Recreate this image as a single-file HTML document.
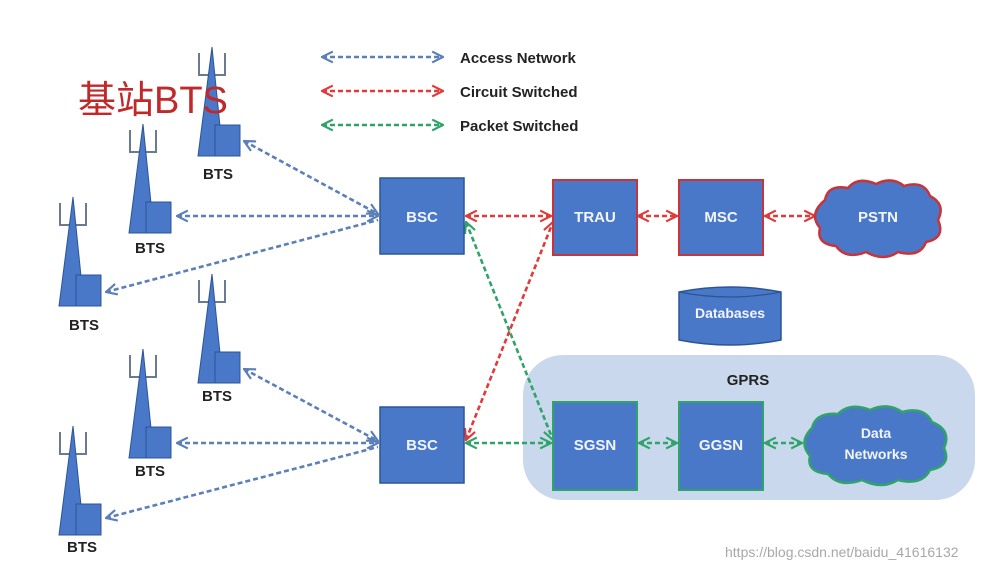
<!DOCTYPE html>
<html><head><meta charset="utf-8"><style>
html,body{margin:0;padding:0;background:#fff}
svg{display:block}
text{font-family:"Liberation Sans",Arial,sans-serif;font-weight:bold}
</style></head><body>
<svg width="1000" height="572" viewBox="0 0 1000 572" xmlns="http://www.w3.org/2000/svg">
<defs>
<marker id="mb" viewBox="0 0 12 12" refX="11" refY="6" markerWidth="13" markerHeight="13" markerUnits="userSpaceOnUse" orient="auto-start-reverse"><path d="M1,1 L11,6 L1,11" fill="none" stroke="#5b7fb8" stroke-width="2"/></marker>
<marker id="mr" viewBox="0 0 12 12" refX="11" refY="6" markerWidth="13" markerHeight="13" markerUnits="userSpaceOnUse" orient="auto-start-reverse"><path d="M1,1 L11,6 L1,11" fill="none" stroke="#e03a3a" stroke-width="2"/></marker>
<marker id="mg" viewBox="0 0 12 12" refX="11" refY="6" markerWidth="13" markerHeight="13" markerUnits="userSpaceOnUse" orient="auto-start-reverse"><path d="M1,1 L11,6 L1,11" fill="none" stroke="#2fa36a" stroke-width="2"/></marker>
<g id="tw">
<path d="M-13,8 V30 H13 V8 M0,8 V30" fill="none" stroke="#6a7a90" stroke-width="2"/>
<polygon points="0,2 -14,111 11,111" fill="#4a78c8" stroke="#2c5596" stroke-width="1"/>
<rect x="3" y="80" width="25" height="31" fill="#4a78c8" stroke="#2c5596" stroke-width="1"/>
</g>
</defs>

<g stroke-width="2.5" stroke-dasharray="5,3" fill="none">
<line x1="322" y1="57" x2="443" y2="57" stroke="#5b7fb8" marker-start="url(#mb)" marker-end="url(#mb)"/>
<line x1="322" y1="91" x2="443" y2="91" stroke="#e03a3a" marker-start="url(#mr)" marker-end="url(#mr)"/>
<line x1="322" y1="125" x2="443" y2="125" stroke="#2fa36a" marker-start="url(#mg)" marker-end="url(#mg)"/>
</g>
<text x="460" y="63" font-size="15" fill="#222">Access Network</text>
<text x="460" y="97" font-size="15" fill="#222">Circuit Switched</text>
<text x="460" y="131" font-size="15" fill="#222">Packet Switched</text>

<rect x="523" y="355" width="452" height="145" rx="40" fill="#c9d8ec"/>
<text x="748" y="385" font-size="15" fill="#222" text-anchor="middle">GPRS</text>

<use href="#tw" transform="translate(212,45)"/>
<use href="#tw" transform="translate(143,122)"/>
<use href="#tw" transform="translate(73,195)"/>
<use href="#tw" transform="translate(212,272)"/>
<use href="#tw" transform="translate(143,347)"/>
<use href="#tw" transform="translate(73,424)"/>
<g font-size="15" fill="#222" text-anchor="middle">
<text x="218" y="179">BTS</text>
<text x="150" y="253">BTS</text>
<text x="84" y="330">BTS</text>
<text x="217" y="401">BTS</text>
<text x="150" y="476">BTS</text>
<text x="82" y="552">BTS</text>
</g>

<g stroke-width="2.6" stroke-dasharray="5,3" fill="none">
<g stroke="#5b7fb8">
<line x1="244" y1="141" x2="378" y2="214" marker-start="url(#mb)" marker-end="url(#mb)"/>
<line x1="177" y1="216" x2="378" y2="216" marker-start="url(#mb)" marker-end="url(#mb)"/>
<line x1="106" y1="292" x2="378" y2="220" marker-start="url(#mb)"/>
<line x1="244" y1="369" x2="378" y2="441" marker-start="url(#mb)" marker-end="url(#mb)"/>
<line x1="177" y1="443" x2="378" y2="443" marker-start="url(#mb)" marker-end="url(#mb)"/>
<line x1="106" y1="518" x2="378" y2="447" marker-start="url(#mb)"/>
</g>
<g stroke="#e03a3a">
<line x1="466" y1="216" x2="551" y2="216" marker-start="url(#mr)" marker-end="url(#mr)"/>
<line x1="638" y1="216" x2="677" y2="216" marker-start="url(#mr)" marker-end="url(#mr)"/>
<line x1="765" y1="216" x2="815" y2="216" marker-start="url(#mr)" marker-end="url(#mr)"/>
<line x1="466" y1="440" x2="553" y2="222" marker-start="url(#mr)" marker-end="url(#mr)"/>
</g>
<g stroke="#2fa36a">
<line x1="466" y1="222" x2="553" y2="440" marker-start="url(#mg)" marker-end="url(#mg)"/>
<line x1="466" y1="443" x2="551" y2="443" marker-start="url(#mg)" marker-end="url(#mg)"/>
<line x1="639" y1="443" x2="677" y2="443" marker-start="url(#mg)" marker-end="url(#mg)"/>
<line x1="765" y1="443" x2="802" y2="443" marker-start="url(#mg)" marker-end="url(#mg)"/>
</g>
</g>

<g font-size="15" text-anchor="middle">
<rect x="380" y="178" width="84" height="76" fill="#4a78c8" stroke="#2c5596" stroke-width="1.5"/>
<text x="422" y="222" fill="#f2f5fb">BSC</text>
<rect x="380" y="407" width="84" height="76" fill="#4a78c8" stroke="#2c5596" stroke-width="1.5"/>
<text x="422" y="450" fill="#f2f5fb">BSC</text>
<rect x="553" y="180" width="84" height="75" fill="#4a78c8" stroke="#c8343a" stroke-width="2"/>
<text x="595" y="222" fill="#f2f5fb">TRAU</text>
<rect x="679" y="180" width="84" height="75" fill="#4a78c8" stroke="#c8343a" stroke-width="2"/>
<text x="721" y="222" fill="#f2f5fb">MSC</text>
<rect x="553" y="402" width="84" height="88" fill="#4a78c8" stroke="#2fa36a" stroke-width="2"/>
<text x="595" y="450" fill="#f2f5fb">SGSN</text>
<rect x="679" y="402" width="84" height="88" fill="#4a78c8" stroke="#2fa36a" stroke-width="2"/>
<text x="721" y="450" fill="#f2f5fb">GGSN</text>
</g>

<path d="M679,292 Q730,282 781,292 V340 Q730,350 679,340 Z" fill="#4a78c8" stroke="#2c5596" stroke-width="1.5"/>
<path d="M679,292 Q730,302 781,292" fill="none" stroke="#2c5596" stroke-width="1.2"/>
<text x="730" y="318" font-size="14" fill="#f2f5fb" text-anchor="middle">Databases</text>

<path d="M825,200 Q828,184 848,188 Q858,176 876,184 Q892,176 904,186 Q924,180 930,196 Q946,204 938,220 Q946,238 926,242 Q920,258 898,252 Q884,262 866,252 Q846,260 836,246 Q816,244 820,228 Q808,214 825,200 Z" fill="#4a78c8" stroke="#c8343a" stroke-width="2.5"/>
<text x="878" y="222" font-size="15" fill="#f2f5fb" text-anchor="middle">PSTN</text>
<path d="M812,428 Q816,412 838,414 Q850,402 870,410 Q888,402 902,412 Q924,406 932,422 Q952,430 944,448 Q952,466 930,470 Q922,486 898,480 Q882,490 862,480 Q840,488 828,474 Q806,472 810,456 Q798,442 812,428 Z" fill="#4a78c8" stroke="#2fa36a" stroke-width="2.5"/>
<text x="876" y="438" font-size="14" fill="#f2f5fb" text-anchor="middle">Data</text>
<text x="876" y="459" font-size="14" fill="#f2f5fb" text-anchor="middle">Networks</text>

<text x="78" y="113" font-size="38" fill="#c0282a" style="font-family:'Liberation Sans','Noto Sans CJK SC',sans-serif;font-weight:normal">基站BTS</text>
<text x="725" y="557" font-size="14" fill="#a8a8a8" style="font-weight:normal">https://blog.csdn.net/baidu_41616132</text>
</svg>
</body></html>
